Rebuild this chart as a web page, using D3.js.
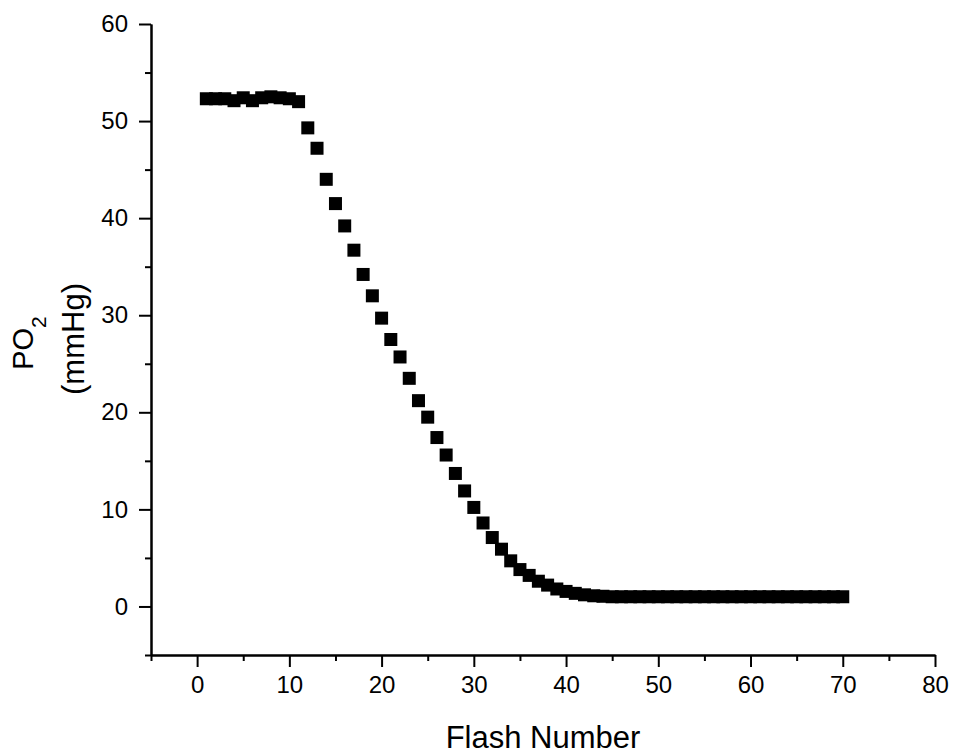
<!DOCTYPE html>
<html>
<head>
<meta charset="utf-8">
<script src="https://cdn.jsdelivr.net/npm/d3@7"></script>
<style>
  body { margin: 0; background: #fff; }
  text { font-family: Arial, "Liberation Sans", sans-serif; fill: #000; }
</style>
</head>
<body>
<svg id="chart" width="955" height="755"></svg>
<script>
// flash number 1..70
var flashes = d3.range(1, 71);

// PO2 (mmHg)
var po2 = [
  52.3, 52.3, 52.3, 52.1, 52.4, 52.1, 52.4, 52.5, 52.4, 52.3,
  52.0, 49.3, 47.2, 44.0, 41.5, 39.2, 36.7, 34.2, 32.0, 29.7,
  27.5, 25.7, 23.5, 21.2, 19.5, 17.4, 15.6, 13.7, 11.9, 10.2,
  8.6, 7.1, 5.9, 4.7, 3.8, 3.2, 2.6, 2.2, 1.8, 1.55,
  1.35, 1.2, 1.1, 1.05, 1.0, 1.0, 1.0, 1.0, 1.0, 1.0,
  1.0, 1.0, 1.0, 1.0, 1.0, 1.0, 1.0, 1.0, 1.0, 1.0,
  1.0, 1.0, 1.0, 1.0, 1.0, 1.0, 1.0, 1.0, 1.0, 1.0
];

var xMajor = [0, 10, 20, 30, 40, 50, 60, 70, 80];
var xMinor = [-5, 5, 15, 25, 35, 45, 55, 65, 75];
var yMajor = [0, 10, 20, 30, 40, 50, 60];
var yMinor = [-5, 5, 15, 25, 35, 45, 55];

var box = { left: 151, right: 935, top: 24, bottom: 655 };

var svg = d3.select("#chart");

var xScale = d3.scaleLinear().domain([-5, 80]).range([box.left, box.right]);
var yScale = d3.scaleLinear().domain([-5, 60]).range([box.bottom, box.top]);

var styleAxis = function(g) {
  g.selectAll("path").attr("stroke", "#000").attr("stroke-width", 2);
  g.selectAll("line").attr("stroke", "#000").attr("stroke-width", 2);
  g.selectAll("text").attr("font-size", 24)
    .attr("font-family", "Arial, 'Liberation Sans', sans-serif").attr("fill", "#000");
};

// minor ticks first
svg.append("g")
  .attr("transform", "translate(0," + box.bottom + ")")
  .call(d3.axisBottom(xScale).tickValues(xMinor).tickSize(6).tickFormat("").tickSizeOuter(0))
  .call(styleAxis);

svg.append("g")
  .attr("transform", "translate(" + box.left + ",0)")
  .call(d3.axisLeft(yScale).tickValues(yMinor).tickSize(6).tickFormat("").tickSizeOuter(0))
  .call(styleAxis);

// major ticks with labels
svg.append("g")
  .attr("transform", "translate(0," + box.bottom + ")")
  .call(d3.axisBottom(xScale).tickValues(xMajor).tickSize(12).tickPadding(8).tickSizeOuter(0))
  .call(styleAxis)
  .selectAll("text").attr("dy", "0.75em");

svg.append("g")
  .attr("transform", "translate(" + box.left + ",0)")
  .call(d3.axisLeft(yScale).tickValues(yMajor).tickSize(12).tickPadding(11).tickSizeOuter(0))
  .call(styleAxis);

// data squares
var sq = 13;
svg.append("g")
  .selectAll("rect")
  .data(flashes)
  .enter()
  .append("rect")
  .attr("x", function(d) { return xScale(d) - sq / 2; })
  .attr("y", function(d, i) { return yScale(po2[i]) - sq / 2; })
  .attr("width", sq)
  .attr("height", sq)
  .attr("fill", "#000");

// axis titles
svg.append("text")
  .attr("x", 543)
  .attr("y", 748)
  .attr("text-anchor", "middle")
  .attr("font-size", 31)
  .text("Flash Number");

var yt = svg.append("text")
  .attr("transform", "translate(33,343) rotate(-90)")
  .attr("text-anchor", "middle")
  .attr("font-size", 29);
yt.append("tspan").text("PO");
yt.append("tspan").attr("font-size", 21).attr("dy", 13).text("2");

svg.append("text")
  .attr("transform", "translate(84,339) rotate(-90)")
  .attr("text-anchor", "middle")
  .attr("font-size", 31)
  .text("(mmHg)");
</script>
</body>
</html>
